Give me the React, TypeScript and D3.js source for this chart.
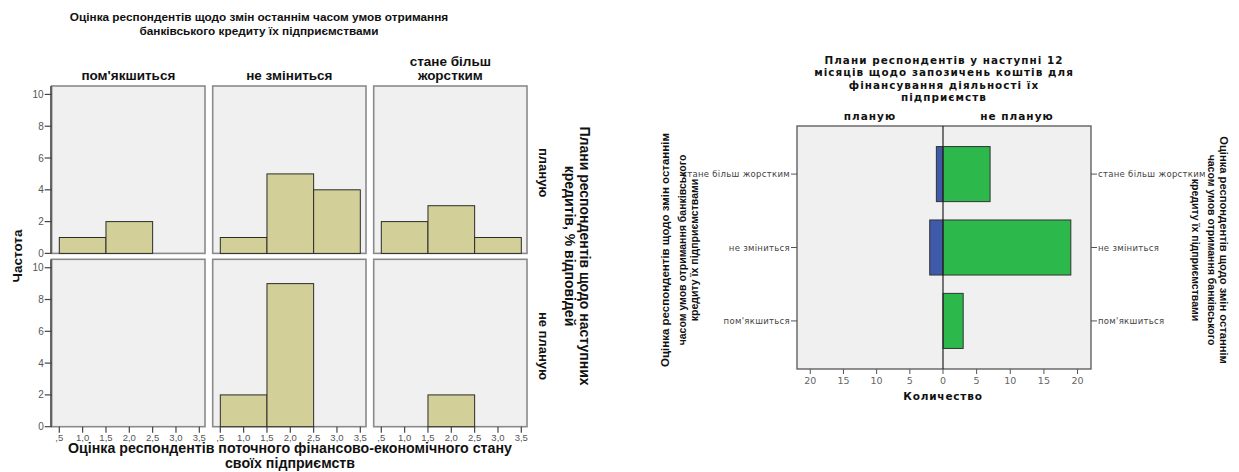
import React from "react";
import * as d3 from "d3";

// ---------- data ----------
const colCategories = ["пом'якшиться", "не зміниться", "стане більш жорстким"];
const colHeaderLines = [["пом'якшиться"], ["не зміниться"], ["стане більш", "жорстким"]];
const rowCategories = ["планую", "не планую"];
const binStarts = [0.5, 1.5, 2.5];
const binWidth = 1;
// counts per column (пом'якшиться, не зміниться, стане більш жорстким), per bin
const countsPlanuyu = [
  [1, 2, 0],
  [1, 5, 4],
  [2, 3, 1],
];
const countsNePlanuyu = [
  [0, 0, 0],
  [2, 9, 0],
  [0, 2, 0],
];
const yTicksLeft = [0, 2, 4, 6, 8, 10];
const xTicksLeft = [0.5, 1, 1.5, 2, 2.5, 3, 3.5];
const xTickLabelsLeft = [",5", "1,0", "1,5", "2,0", "2,5", "3,0", "3,5"];

const pyramidCategories = ["стане більш жорстким", "не зміниться", "пом'якшиться"];
const pyramidPlanuyu = [1, 2, 0];
const pyramidNePlanuyu = [7, 19, 3];
const pyramidTicks = [0, 5, 10, 15, 20];

const leftTitle = ["Оцінка респондентів щодо змін останнім часом умов отримання", "банківського кредиту їх підприємствами"];
const leftXLabel = ["Оцінка респондентів поточного фінансово-економічного стану", "своїх підприємств"];
const leftRightTitle = ["Плани респондентів щодо наступних", "кредитів, % відповідей"];
const rightTitle = ["Плани респондентів у наступні 12", "місяців щодо запозичень коштів для", "фінансування діяльності їх", "підприємств"];
const rightYTitle = ["Оцінка респондентів щодо змін останнім", "часом умов отримання банківського", "кредиту їх підприємствами"];

const SANS = "'Liberation Sans', Arial, sans-serif";
const DJ = "'DejaVu Sans', Verdana, sans-serif";

function LeftChart() {
  const panelX0 = 51.7;
  const panelStep = 161;
  const panelW = 153.3;
  const rowTops = [86, 259.3];
  const panelH = 167.4;
  const rowsData = [countsPlanuyu, countsNePlanuyu];

  const x = (c: number) =>
    d3.scaleLinear().domain([0.337, 3.622]).range([panelX0 + c * panelStep, panelX0 + c * panelStep + panelW]);
  const y = (r: number) => d3.scaleLinear().domain([0, 10.53]).range([rowTops[r] + panelH, rowTops[r]]);

  return (
    <g fontFamily={SANS}>
      {leftTitle.map((t, i) => (
        <text key={i} x={259} y={21 + i * 14} textAnchor="middle" fontSize={11.8} fontWeight="bold" fill="#111">
          {t}
        </text>
      ))}
      {colHeaderLines.map((lines, c) => {
        const cx = panelX0 + c * panelStep + panelW / 2;
        return lines.map((t, i) => (
          <text key={c + "-" + i} x={cx} y={80 - (lines.length - 1 - i) * 14} textAnchor="middle" fontSize={13.5} fontWeight="bold" fill="#111">
            {t}
          </text>
        ));
      })}
      {rowCategories.map((_, r) =>
        colCategories.map((_, c) => {
          const xs = x(c);
          const ys = y(r);
          return (
            <g key={r + "-" + c}>
              <rect x={xs.range()[0]} y={rowTops[r]} width={panelW} height={panelH} fill="#f0f0f0" stroke="#8a8a8a" strokeWidth={1.6} />
              {binStarts.map((b, i) => {
                const v = rowsData[r][c][i];
                if (!v) return null;
                return (
                  <rect key={i} x={xs(b)} y={ys(v)} width={xs(b + binWidth) - xs(b)} height={ys(0) - ys(v)} fill="#d3cf98" stroke="#2b2b2b" strokeWidth={1} />
                );
              })}
            </g>
          );
        })
      )}
      {/* y axes */}
      {rowCategories.map((_, r) => {
        const ys = y(r);
        return (
          <g key={r}>
            <line x1={panelX0 - 0.8} x2={panelX0 - 0.8} y1={rowTops[r]} y2={rowTops[r] + panelH} stroke="#444" strokeWidth={1.4} />
            {yTicksLeft.map((t) => (
              <g key={t}>
                <line x1={panelX0 - 7} x2={panelX0} y1={ys(t)} y2={ys(t)} stroke="#444" strokeWidth={1.2} />
                <text x={panelX0 - 8} y={ys(t) + 3.5} textAnchor="end" fontSize={10} fill="#555">
                  {t}
                </text>
              </g>
            ))}
          </g>
        );
      })}
      {/* x axes */}
      {colCategories.map((_, c) => {
        const xs = x(c);
        const base = rowTops[1] + panelH;
        return (
          <g key={c}>
            {xTicksLeft.map((t, i) => (
              <g key={t}>
                <line x1={xs(t)} x2={xs(t)} y1={base} y2={base + 6} stroke="#444" strokeWidth={1.2} />
                <text x={xs(t)} y={base + 14.5} textAnchor="middle" fontSize={9.5} fill="#555">
                  {xTickLabelsLeft[i]}
                </text>
              </g>
            ))}
          </g>
        );
      })}
      <text transform="translate(22,256) rotate(-90)" textAnchor="middle" fontSize={13.5} fontWeight="bold" fill="#111">
        Частота
      </text>
      {leftXLabel.map((t, i) => (
        <text key={i} x={290} y={453 + i * 14.5} textAnchor="middle" fontSize={14.2} fontWeight="bold" fill="#111">
          {t}
        </text>
      ))}
      {rowCategories.map((t, r) => (
        <text key={t} transform={`translate(539,${rowTops[r] + panelH / 2 + 3}) rotate(90)`} textAnchor="middle" fontSize={13} fontWeight="bold" fill="#111">
          {t}
        </text>
      ))}
      {leftRightTitle.map((t, i) => (
        <text key={i} transform={`translate(${580 - i * 15},${256 - i * 10}) rotate(90)`} textAnchor="middle" fontSize={14} fontWeight="bold" fill="#111">
          {t}
        </text>
      ))}
    </g>
  );
}

function RightChart() {
  const fx0 = 797,
    fx1 = 1091,
    fy0 = 126,
    fy1 = 369;
  const cx = 943;
  const xR = d3.scaleLinear().domain([0, 22]).range([cx, fx1]);
  const xL = d3.scaleLinear().domain([0, 22]).range([cx, fx0]);
  const yb = d3.scaleBand<string>().domain(pyramidCategories).range([fy0, fy1]).paddingInner(0.25).paddingOuter(0.28);

  return (
    <g>
      {rightTitle.map((t, i) => (
        <text key={i} x={944} y={64 + i * 12.3} textAnchor="middle" fontFamily={DJ} fontSize={10.4} fontWeight="bold" letterSpacing={1.05} fill="#111">
          {t}
        </text>
      ))}
      <text x={(fx0 + cx) / 2} y={120} textAnchor="middle" fontFamily={DJ} fontSize={10.5} fontWeight="bold" letterSpacing={1} fill="#111">
        {rowCategories[0]}
      </text>
      <text x={(cx + fx1) / 2} y={120} textAnchor="middle" fontFamily={DJ} fontSize={10.5} fontWeight="bold" letterSpacing={1} fill="#111">
        {rowCategories[1]}
      </text>
      <rect x={fx0} y={fy0} width={fx1 - fx0} height={fy1 - fy0} fill="#f0f0f0" stroke="#555" strokeWidth={1.3} />
      {pyramidCategories.map((c, i) => {
        const y0 = yb(c)!;
        const h = yb.bandwidth();
        const vl = pyramidPlanuyu[i];
        const vr = pyramidNePlanuyu[i];
        return (
          <g key={c}>
            {vl > 0 && <rect x={xL(vl)} y={y0} width={xL(0) - xL(vl)} height={h} fill="#3f5aab" stroke="#333" strokeWidth={1} />}
            {vr > 0 && <rect x={xR(0)} y={y0} width={xR(vr) - xR(0)} height={h} fill="#2db84b" stroke="#333" strokeWidth={1} />}
          </g>
        );
      })}
      <line x1={cx} x2={cx} y1={fy0} y2={fy1} stroke="#222" strokeWidth={1.2} />
      {/* category ticks & labels */}
      {pyramidCategories.map((c) => {
        const ym = yb(c)! + yb.bandwidth() / 2;
        return (
          <g key={c} fontFamily={DJ} fontSize={8.5} fill="#444">
            <line x1={fx0 - 6} x2={fx0} y1={ym} y2={ym} stroke="#555" />
            <text x={fx0 - 7} y={ym + 3} textAnchor="end" letterSpacing={0.3}>
              {c}
            </text>
            <line x1={fx1} x2={fx1 + 6} y1={ym} y2={ym} stroke="#555" />
            <text x={fx1 + 7} y={ym + 3} textAnchor="start" letterSpacing={0.3}>
              {c}
            </text>
          </g>
        );
      })}
      {/* x ticks */}
      {[xL, xR].map((s, k) =>
        pyramidTicks.map((t) => {
          if (k === 1 && t === 0) return null;
          return (
            <g key={k + "-" + t}>
              <line x1={s(t)} x2={s(t)} y1={fy1} y2={fy1 + 5} stroke="#555" />
              <text x={s(t)} y={fy1 + 15} textAnchor="middle" fontFamily={DJ} fontSize={9.5} fill="#666">
                {t}
              </text>
            </g>
          );
        })
      )}
      <text x={cx} y={400} textAnchor="middle" fontFamily={DJ} fontSize={10.5} fontWeight="bold" letterSpacing={0.8} fill="#111">
        Количество
      </text>
      {/* left y title */}
      {rightYTitle.map((t, i) => (
        <text key={"l" + i} transform={`translate(${[669, 686, 698][i]},250) rotate(-90)`} textAnchor="middle" fontFamily={SANS} fontSize={i === 0 ? 11.5 : 10.5} fontWeight="bold" fill="#111">
          {t}
        </text>
      ))}
      {rightYTitle.map((t, i) => (
        <text key={"r" + i} transform={`translate(${[1220, 1208, 1192][i]},250) rotate(90)`} textAnchor="middle" fontFamily={SANS} fontSize={i === 0 ? 11.2 : 10.5} fontWeight="bold" fill="#111">
          {t}
        </text>
      ))}
    </g>
  );
}

export default function App() {
  return (
    <svg width={1239} height={472} style={{ position: "absolute", left: 0, top: 0, background: "#fff" }}>
      <rect width={1239} height={472} fill="#fff" />
      <LeftChart />
      <RightChart />
    </svg>
  );
}
